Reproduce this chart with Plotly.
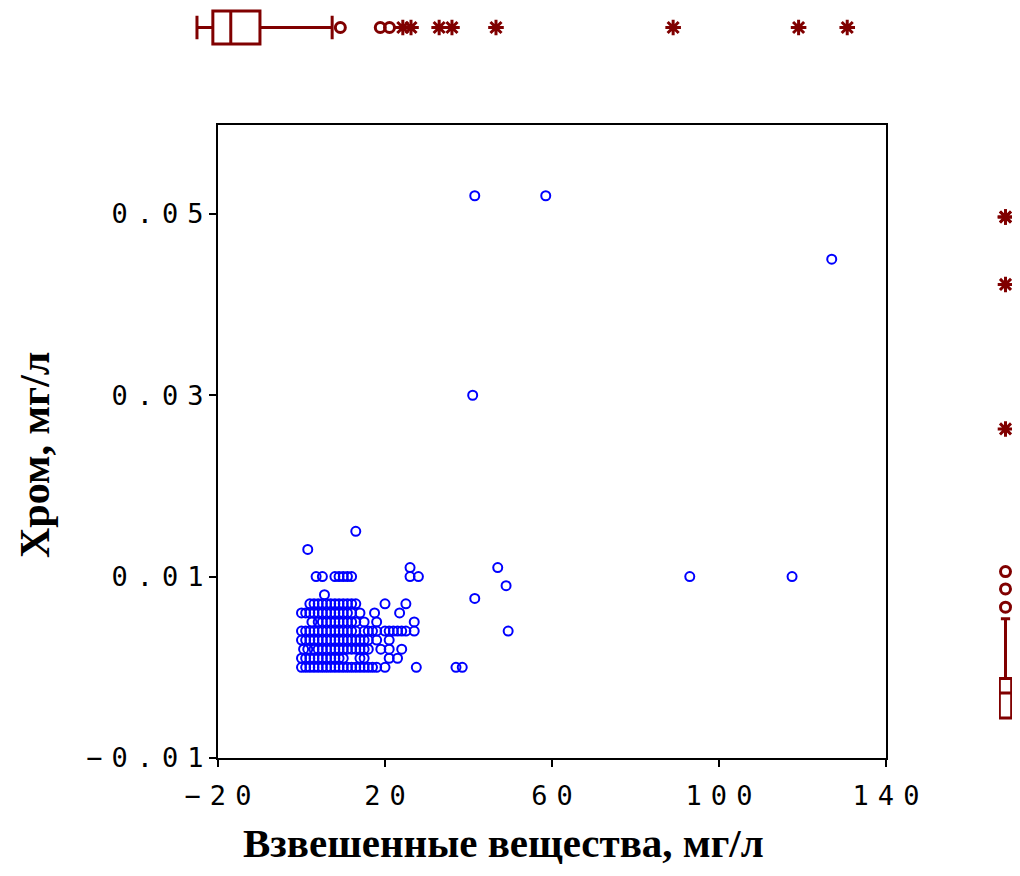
import plotly.graph_objects as go

# --- data -------------------------------------------------------------
# suspended solids (mg/l), grouped by chromium level
ss_cr0000 = [0, 1, 2, 3, 4, 5, 6, 7, 8, 9, 10, 11, 12, 13, 14, 15, 16, 17, 18, 20, 27.5, 37, 38.5]
ss_cr0010 = [0, 1, 2, 3, 4, 5, 6, 7, 8, 9, 10, 14, 15, 21, 23]
ss_cr0020 = [0.5, 1.5, 3, 4, 5, 6, 7, 8, 9, 10, 11, 12, 13, 14, 15, 16, 19, 21, 24]
ss_cr0030 = [0, 1, 2, 3, 4, 5, 6, 7, 8, 9, 10, 11, 12, 13, 14, 15, 16, 18, 21]
ss_cr0040 = [0, 1, 2, 3, 4, 5, 6, 7, 8, 9, 10, 11, 12, 13, 15, 16, 17, 18, 20, 21, 22, 23, 24, 25, 27, 49.5]
ss_cr0050 = [2.5, 4, 5, 6, 7, 8, 9, 10, 11, 12, 13, 15, 18, 27]
ss_cr0060 = [0, 1, 2, 3, 4, 5, 6, 7, 8, 9, 10, 11, 12, 14, 17.5, 23.5]
ss_cr0070 = [2, 3, 4, 5, 6, 7, 8, 9, 10, 11, 12, 13, 20, 25]
ss_cr0076 = [41.5]
ss_cr0080 = [5.5]
ss_cr0090 = [49]
ss_cr0100 = [3.5, 5, 8, 9, 10, 11, 12, 26, 28, 93, 117.5]
ss_cr0110 = [26, 47]
ss_cr0130 = [1.5]
ss_cr0150 = [13]
ss_cr0300 = [41]
ss_cr0450 = [127]
ss_cr0520 = [41.5, 58.5]

cr_levels = [0.0, 0.001, 0.002, 0.003, 0.004, 0.005, 0.006, 0.007, 0.0076,
             0.008, 0.009, 0.010, 0.011, 0.013, 0.015, 0.030, 0.045, 0.052]
ss_groups = [ss_cr0000, ss_cr0010, ss_cr0020, ss_cr0030, ss_cr0040, ss_cr0050,
             ss_cr0060, ss_cr0070, ss_cr0076, ss_cr0080, ss_cr0090, ss_cr0100,
             ss_cr0110, ss_cr0130, ss_cr0150, ss_cr0300, ss_cr0450, ss_cr0520]

# marginal box plot of suspended solids (top)
ss_box = dict(lo=0.0, q1=3.1, med=6.6, q3=12.3, hi=26.4)
ss_mild = [28.0, 35.8, 37.6]
ss_extreme = [40.2, 41.8, 47.3, 49.8, 58.4, 93.0, 117.5, 127.0]

# marginal box plot of chromium (right)
cr_box = dict(lo=0.0, q1=0.0, med=0.0026, q3=0.0041, hi=0.0103)
cr_mild = [0.0115, 0.0134, 0.0152]
cr_extreme = [0.030, 0.045, 0.052, 0.052]

x_ticks = [-20, 20, 60, 100, 140]
y_ticks = [-0.01, 0.01, 0.03, 0.05]

# --- figure -----------------------------------------------------------
# the page body keeps its default 8px margin, so the figure is 16px smaller
# than the window and every page position is shifted by 8px
OFF = 8
W, H = 1020 - 2 * OFF, 876 - 2 * OFF
BLUE = "#0000ff"
RED = "#800000"

xs, ys = [], []
for lev, grp in zip(cr_levels, ss_groups):
    xs += grp
    ys += [lev] * len(grp)


def clamp(v):
    return min(1.0, max(0.0, v))


def px_x(a, b):
    return [clamp((a - OFF) / W), clamp((b - OFF) / W)]


def px_y(top, bottom):
    return [clamp(1 - (bottom - OFF) / H), clamp(1 - (top - OFF) / H)]


def spaced(s, sp=9):
    # wide letter spacing like the bitmap font, none after the last char
    return f'<span style="letter-spacing:{sp}px">{s[:-1]}</span>{s[-1]}'


fig = go.Figure()

fig.add_trace(go.Scatter(
    x=xs, y=ys, mode="markers",
    marker=dict(symbol="circle-open", size=9, color=BLUE, line=dict(width=2, color=BLUE)),
    xaxis="x", yaxis="y",
))

# top box (axis spans page px 8..47, centre 27.5)
fig.add_trace(go.Box(
    orientation="h", y=[0],
    lowerfence=[ss_box["lo"]], q1=[ss_box["q1"]], median=[ss_box["med"]],
    q3=[ss_box["q3"]], upperfence=[ss_box["hi"]],
    width=1.69, whiskerwidth=0.72, boxpoints=False,
    line=dict(color=RED, width=3), fillcolor="rgba(0,0,0,0)",
    xaxis="x2", yaxis="y2",
))
fig.add_trace(go.Scatter(
    x=ss_mild, y=[0] * len(ss_mild), mode="markers", cliponaxis=False,
    marker=dict(symbol="circle-open", size=10, color=RED, line=dict(width=3, color=RED)),
    xaxis="x2", yaxis="y2",
))
fig.add_trace(go.Scatter(
    x=ss_extreme, y=[0] * len(ss_extreme), mode="markers", cliponaxis=False,
    marker=dict(symbol="asterisk-open", size=13, color=RED, line=dict(width=3, color=RED)),
    xaxis="x2", yaxis="y2",
))

# right box
fig.add_trace(go.Box(
    x=[0],
    lowerfence=[cr_box["lo"]], q1=[cr_box["q1"]], median=[cr_box["med"]],
    q3=[cr_box["q3"]], upperfence=[cr_box["hi"]],
    width=1.9, whiskerwidth=0.75, boxpoints=False,
    line=dict(color=RED, width=3), fillcolor="rgba(0,0,0,0)",
    xaxis="x3", yaxis="y3",
))
fig.add_trace(go.Scatter(
    x=[0] * len(cr_mild), y=cr_mild, mode="markers", cliponaxis=False,
    marker=dict(symbol="circle-open", size=10, color=RED, line=dict(width=3, color=RED)),
    xaxis="x3", yaxis="y3",
))
fig.add_trace(go.Scatter(
    x=[0] * len(cr_extreme), y=cr_extreme, mode="markers", cliponaxis=False,
    marker=dict(symbol="asterisk-open", size=13, color=RED, line=dict(width=3, color=RED)),
    xaxis="x3", yaxis="y3",
))

tick_font = dict(family="DejaVu Sans Mono", size=27, color="black")
axis_common = dict(
    showgrid=False, zeroline=False, showline=True, mirror=True,
    linecolor="black", linewidth=2, ticks="outside", ticklen=7, tickwidth=2,
    tickcolor="black", tickfont=tick_font, automargin=False,
)
hidden = dict(visible=False, automargin=False)

fig.update_layout(
    width=W, height=H,
    margin=dict(l=0, r=0, t=0, b=0, autoexpand=False),
    paper_bgcolor="white", plot_bgcolor="white",
    showlegend=False,
    xaxis=dict(
        domain=px_x(218, 886), range=[-20, 140],
        tickvals=x_ticks,
        ticktext=[spaced(str(v).replace("-", "−")) for v in x_ticks],
        ticklabelstandoff=6,
        **axis_common,
    ),
    yaxis=dict(
        domain=px_y(125, 758), range=[-0.01, 0.0598],
        tickvals=y_ticks,
        ticktext=[spaced(f"{v:.2f}".replace("-", "−")) for v in y_ticks],
        **axis_common,
    ),
    xaxis2=dict(domain=px_x(185, 880), range=[-2.34, 133.4], **hidden),
    yaxis2=dict(domain=px_y(8, 47), range=[-1, 1], **hidden),
    xaxis3=dict(domain=px_x(999, 1012), range=[-1, 1], **hidden),
    yaxis3=dict(domain=px_y(190, 740), range=[-0.00228, 0.0548], **hidden),
    annotations=[
        dict(text="<b>Взвешенные вещества, мг/л</b>", x=(503 - OFF) / W, y=0,
             xref="paper", yref="paper", showarrow=False,
             font=dict(family="Liberation Serif", size=41, color="black"),
             xanchor="center", yanchor="bottom"),
        dict(text="<b>Хром, мг/л</b>", x=(35 - OFF) / W, y=1 - (455 - OFF) / H,
             xref="paper", yref="paper", showarrow=False, textangle=-90,
             font=dict(family="Liberation Serif", size=42, color="black"),
             xanchor="center", yanchor="middle"),
    ],
)

fig.write_html("out.html")
